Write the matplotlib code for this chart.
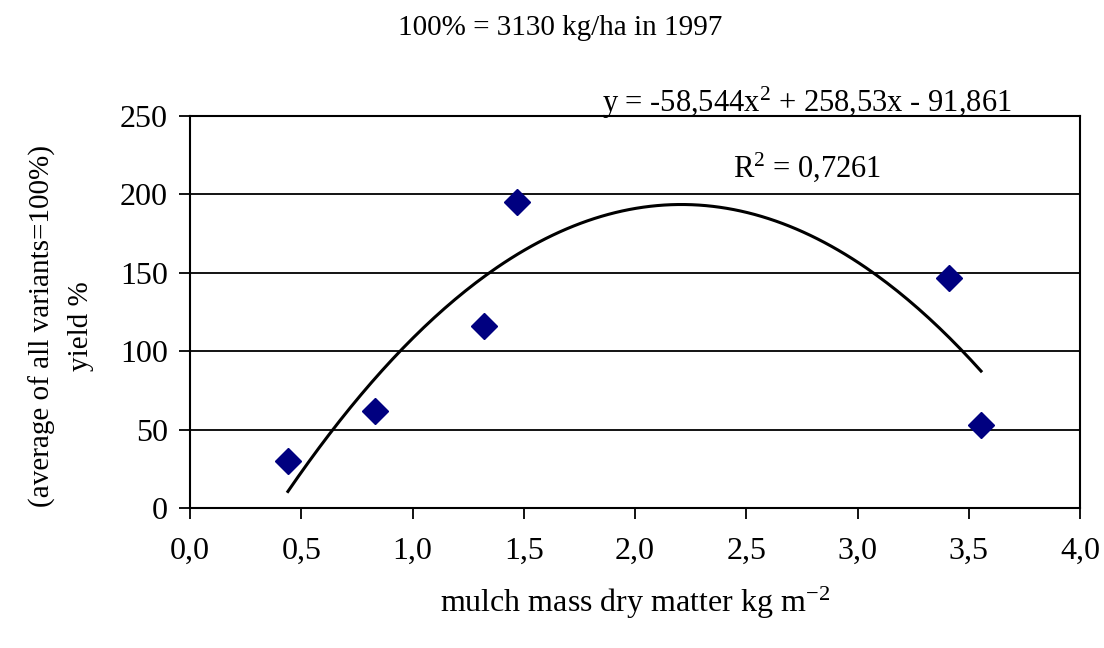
import numpy as np
import matplotlib.pyplot as plt

plt.rcParams['font.family'] = 'Liberation Serif'
plt.rcParams['mathtext.fontset'] = 'custom'
plt.rcParams['mathtext.rm'] = 'Liberation Serif'
plt.rcParams['mathtext.it'] = 'Liberation Serif'

# mulch mass (kg m-2) and relative yield (%)
mulch = [0.44, 0.83, 1.32, 1.47, 3.41, 3.555]
yield_pct = [30, 62, 116, 195, 147, 53]

# polynomial trend (as printed on the chart)
coef = [-58.544, 258.53, -91.861]

fig = plt.figure(figsize=(11.04, 6.48), dpi=100)
ax = fig.add_axes([0.1721, 0.216, 0.8062, 0.605])

xs = np.linspace(min(mulch), max(mulch), 200)
ax.plot(xs, np.polyval(coef, xs), color='black', lw=2.2, zorder=3)
ax.plot(mulch, yield_pct, linestyle='none', marker='D', ms=13,
        color='#000080', zorder=4)

ax.set_xlim(0, 4)
ax.set_ylim(0, 250)
ax.set_xticks(np.arange(0, 4.01, 0.5))
ax.set_xticklabels([f'{v:.1f}'.replace('.', ',') for v in np.arange(0, 4.01, 0.5)])
ax.set_yticks(range(0, 251, 50))
ax.yaxis.grid(True, color='black', lw=1.3)
ax.tick_params(direction='out', length=8, width=1.3, labelsize=23)
ax.tick_params(axis='x', pad=13)
ax.tick_params(axis='y', pad=8)
for s in ax.spines.values():
    s.set_linewidth(1.5)
    s.set_color('black')

fig.text(0.575, 0.069, 'mulch mass dry matter kg m$^{-2}$', ha='center', va='center',
         fontsize=23)
fig.text(0.056, 0.497, '(average of all variants=100%)\nyield %', ha='center',
         va='center', rotation=90, fontsize=21, linespacing=1.6,
         multialignment='center')

fig.text(0.507, 0.957, '100% = 3130 kg/ha in 1997', ha='center', va='center',
         fontsize=21)
ax.text(0.693, 1.010, 'y = -58,544x$^{2}$ + 258,53x - 91,861', transform=ax.transAxes,
        ha='center', va='baseline', fontsize=22)
ax.text(0.693, 0.844, 'R$^{2}$ = 0,7261', transform=ax.transAxes,
        ha='center', va='baseline', fontsize=22)

fig.savefig('out.png', dpi=100)
